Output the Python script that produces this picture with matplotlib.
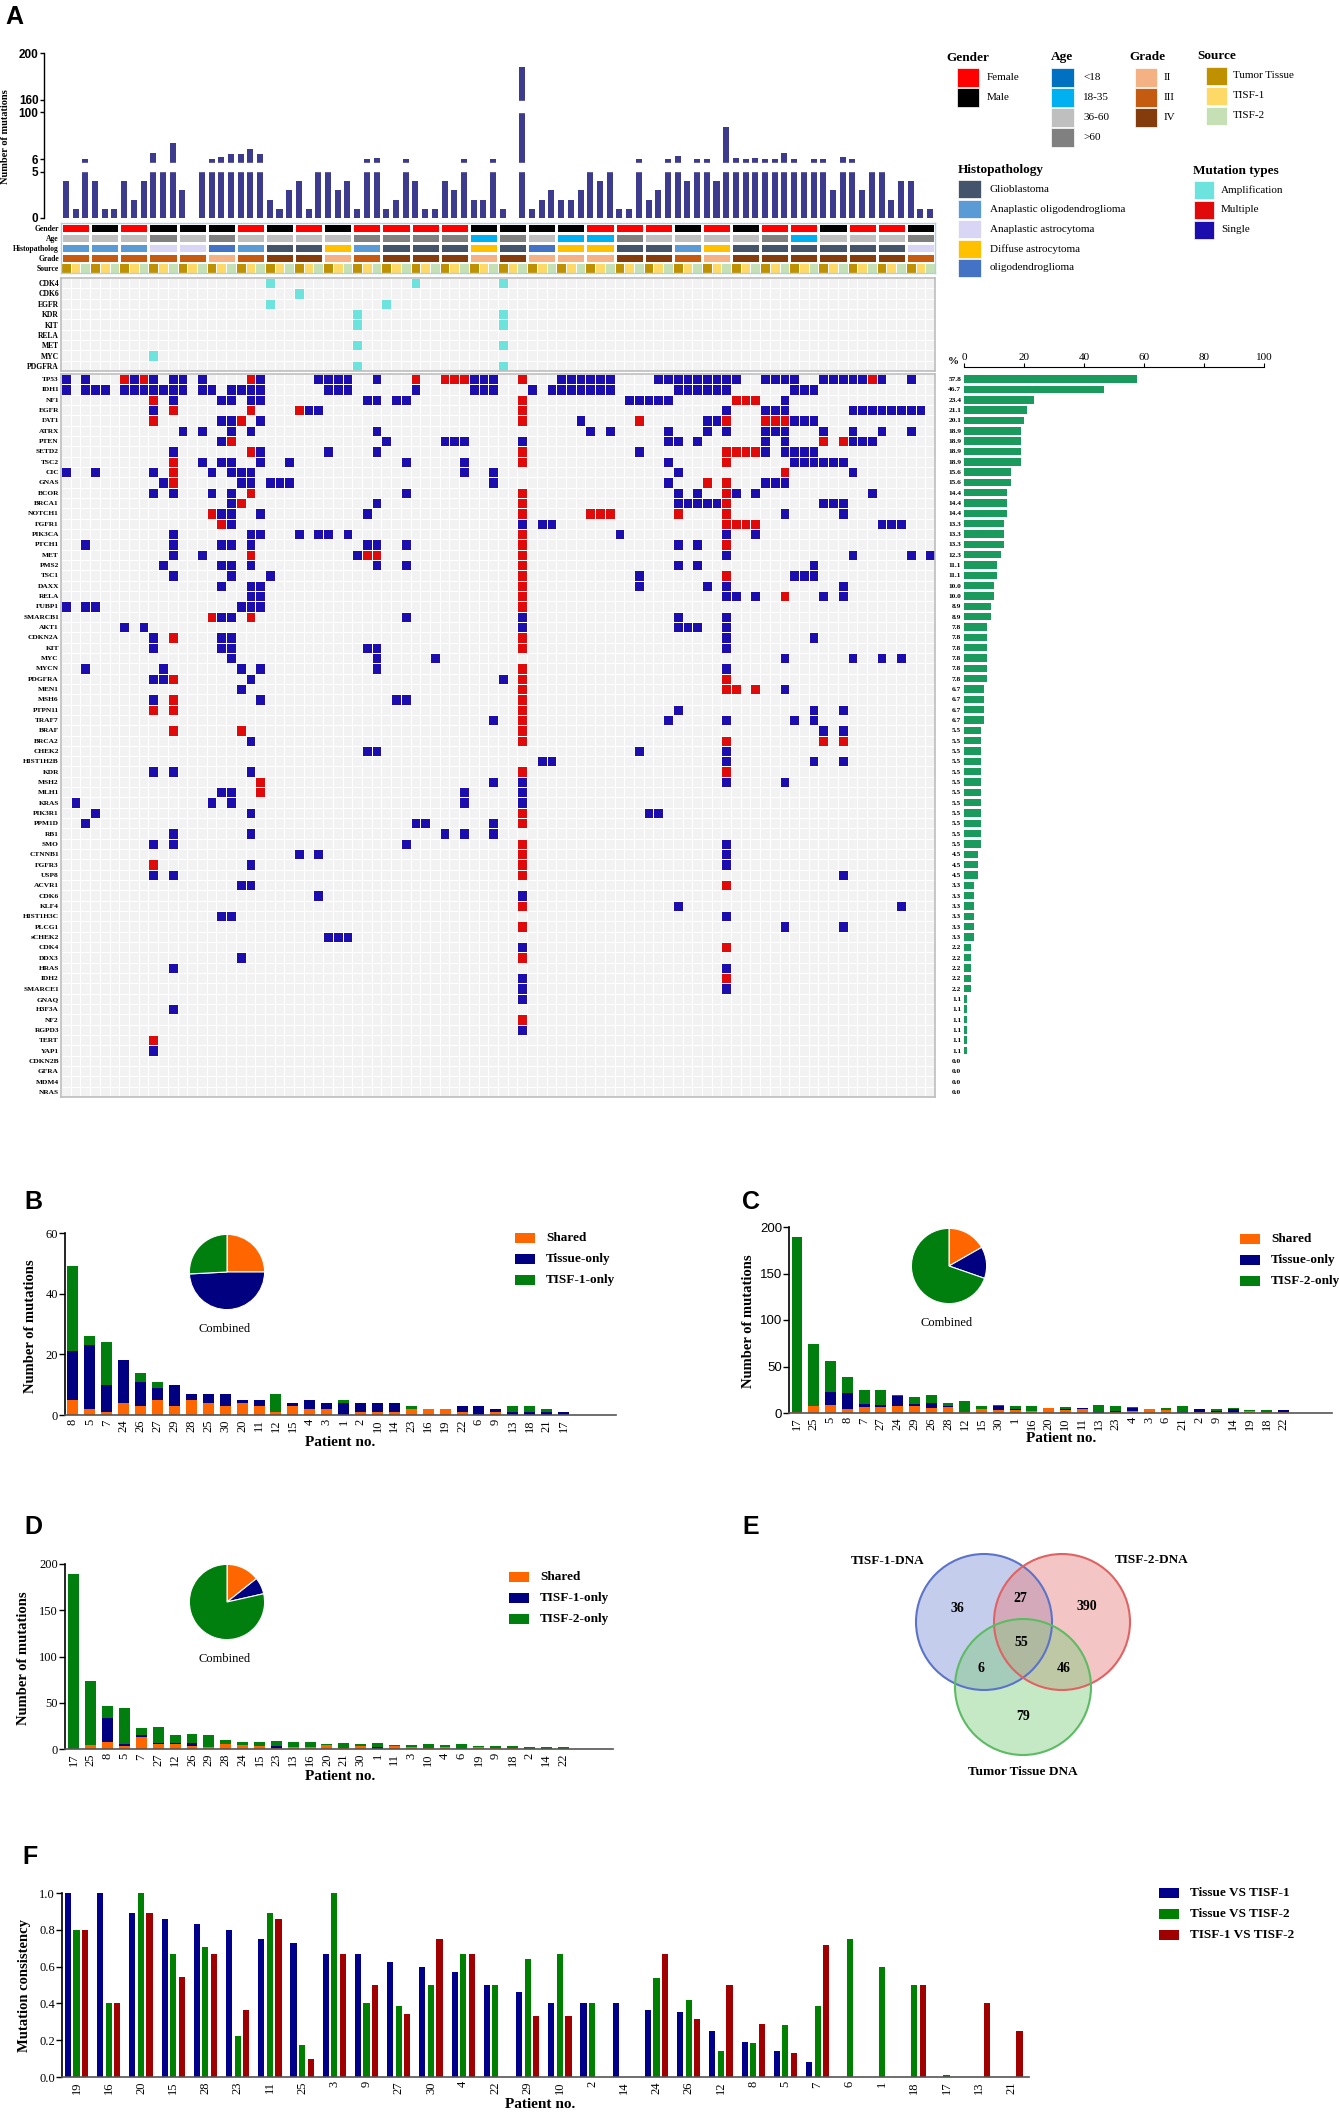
import numpy as np
import matplotlib
matplotlib.use("Agg")
import matplotlib.pyplot as plt
from matplotlib.colors import ListedColormap
from matplotlib.patches import Rectangle, Circle

plt.rcParams['font.family'] = ['Liberation Serif', 'DejaVu Serif']

# ---------------- data: panel A ----------------
n_pat = 30
gender = ['Female', 'Male', 'Female', 'Male', 'Male', 'Male', 'Female', 'Male', 'Female', 'Male',
          'Female', 'Female', 'Female', 'Female', 'Male', 'Male', 'Male', 'Male', 'Female', 'Female',
          'Female', 'Male', 'Female', 'Male', 'Female', 'Female', 'Male', 'Female', 'Female', 'Male']
age = ['36-60', '36-60', '36-60', '>60', '36-60', '>60', '36-60', '36-60', '36-60', '36-60',
       '>60', '>60', '>60', '>60', '18-35', '>60', '36-60', '18-35', '18-35', '>60',
       '36-60', '36-60', '36-60', '36-60', '>60', '18-35', '36-60', '36-60', '36-60', '>60']
histo = ['AO', 'AO', 'AO', 'AA', 'AA', 'OL', 'AO', 'GBM', 'GBM', 'DA',
         'AO', 'GBM', 'GBM', 'GBM', 'DA', 'GBM', 'OL', 'DA', 'DA', 'GBM',
         'GBM', 'AO', 'DA', 'GBM', 'GBM', 'GBM', 'GBM', 'GBM', 'GBM', 'AA']
grade = ['III', 'III', 'III', 'III', 'III', 'II', 'III', 'IV', 'IV', 'II',
         'III', 'IV', 'IV', 'IV', 'II', 'IV', 'II', 'II', 'II', 'IV',
         'IV', 'III', 'II', 'IV', 'IV', 'IV', 'IV', 'IV', 'IV', 'III']
sources = ['Tumor Tissue', 'TISF-1', 'TISF-2']

# mutations per sample (90 samples = 30 patients x 3 sources)
sample_total = [4, 1, 6, 4, 1, 1, 4, 2, 4, 19, 5, 38, 3, 0, 5, 6, 10, 16, 16, 27,
                16, 2, 1, 3, 4, 1, 5, 5, 3, 4, 1, 6, 8, 1, 2, 6, 4, 1, 1, 4,
                3, 6, 2, 2, 6, 1, 0, 188, 1, 2, 3, 2, 2, 3, 5, 4, 5, 1, 1, 6,
                2, 3, 6, 13, 4, 6, 6, 4, 70, 8, 6, 9, 7, 6, 18, 6, 5, 6, 6, 3,
                10, 6, 3, 5, 5, 2, 4, 4, 1, 1]

cnv_genes = ['CDK4', 'CDK6', 'EGFR', 'KDR', 'KIT', 'RELA', 'MET', 'MYC', 'PDGFRA']
cnv_cols = [[21, 36, 45], [24], [21, 33], [30, 45], [30, 45], [], [30, 45], [9], [30, 45]]

genes = ['TP53', 'IDH1', 'NF1', 'EGFR', 'FAT1', 'ATRX', 'PTEN', 'SETD2', 'TSC2', 'CIC',
         'GNAS', 'BCOR', 'BRCA1', 'NOTCH1', 'FGFR1', 'PIK3CA', 'PTCH1', 'MET', 'PMS2', 'TSC1',
         'DAXX', 'RELA', 'FUBP1', 'SMARCB1', 'AKT1', 'CDKN2A', 'KIT', 'MYC', 'MYCN', 'PDGFRA',
         'MEN1', 'MSH6', 'PTPN11', 'TRAF7', 'BRAF', 'BRCA2', 'CHEK2', 'HIST1H2B', 'KDR', 'MSH2',
         'MLH1', 'KRAS', 'PIK3R1', 'PPM1D', 'RB1', 'SMO', 'CTNNB1', 'FGFR3', 'USP8', 'ACVR1',
         'CDK6', 'KLF4', 'HIST1H3C', 'PLCG1', 'sCHEK2', 'CDK4', 'DDX3', 'HRAS', 'IDH2', 'SMARCE1',
         'GNAQ', 'H3F3A', 'NF2', 'RGPD3', 'TERT', 'YAP1', 'CDKN2B', 'GFRA', 'MDM4', 'NRAS']
pct = [57.8, 46.7, 23.4, 21.1, 20.1, 18.9, 18.9, 18.9, 18.9, 15.6,
       15.6, 14.4, 14.4, 14.4, 13.3, 13.3, 13.3, 12.3, 11.1, 11.1,
       10.0, 10.0, 8.9, 8.9, 7.8, 7.8, 7.8, 7.8, 7.8, 7.8,
       6.7, 6.7, 6.7, 6.7, 5.5, 5.5, 5.5, 5.5, 5.5, 5.5,
       5.5, 5.5, 5.5, 5.5, 5.5, 5.5, 4.5, 4.5, 4.5, 3.3,
       3.3, 3.3, 3.3, 3.3, 3.3, 2.2, 2.2, 2.2, 2.2, 2.2,
       1.1, 1.1, 1.1, 1.1, 1.1, 1.1, 0.0, 0.0, 0.0, 0.0]
# sample column of each mutated cell, "m" = multiple mutations
mut_cells = [
    "0 2 6m 7 8m 9 11 12 14 19m 20 26 27 28 29 32 36m 39m 40m 41m 42 43 44 47m 51 52 53 54 55 56 61 62 63 64 65 66 67 68 69 72 73 74 75 78 79 80 81 82 83m 84 87",
    "0 2 3 4 6 7 8 9 10 11 12 14 15 17 18 19 20 27 28 29 36 42 43 44 48 50 51 52 53 54 55 56 63 64 65 66 67 68 75 76 77",
    "9m 11 16 17 19 20 31 32 34 35 47m 58 59 60 61 62 69m 70m 71m 74",
    "9 11m 19m 24m 25 26 47m 68 72 73 74 81 82 83 84 85 86 87 88",
    "9m 16 17 18m 20 47m 53 59m 66 67 68m 72m 73m 74m 75 76 77",
    "12 14 17 19 32 54 56 62 66 68 72 73 74 78 81 84 87",
    "16 17m 33 39 40 41 47 62 63 65 72 74 78m 80m 81 82 83",
    "11 19m 20 27 32 47m 59 68m 69m 70m 71m 72 74 75 76 77",
    "11m 14 16 17 20 23 35 41 47m 62 68m 75 76 77 78 79 80",
    "0 3 9 11m 15 17 18 19 41 44 63 74m 81",
    "10 11m 18 19 21 22 23 44 62 66m 68m 72 73 74",
    "9 11 15 17 19m 35 47m 63 65 68m 69 71 83",
    "17 18m 32 47m 63 64 65 66 67 68m 78 79 80",
    "15m 16 17 20 31 47m 54m 55m 56m 63m 68m 74 80",
    "16m 17 47 49 50 68m 69m 70m 71m 84 85 86",
    "11 19 20 24 26 27 29 47m 57 68 71",
    "2 11 16 17 19 31 32 35 47m 63 65 68m",
    "11 14 19m 30 31m 32m 47m 68 81 87 89",
    "10 16 17 19 32 35 47m 63 65 77",
    "11 17 21 47m 59 68m 75 76 77",
    "16 19 20 47m 59 66 68 80",
    "19 20 47m 68 69 71 74m 78 80",
    "0 2 3 18 19 20 47m",
    "15m 16 17 19m 35 47 63 68",
    "6 8 47 63 64 65 68",
    "9 11m 16 17 47m 68 77",
    "9 16 17 31 32 47m 68",
    "17 32 38 74 81 84 86",
    "2 10 18 20 32 47m 68",
    "9 10 11m 19 45 47m 68m",
    "18 47m 68m 69m 71m 74",
    "9 11m 20 34 35 47m",
    "9m 11m 47m 63 77 80",
    "44 47m 62 68 75 77",
    "11m 18m 47m 78 80",
    "19 47m 68m 78m 80m",
    "31 32 59 68",
    "49 50 68 77 80",
    "9 11 19 47m 68m",
    "20m 44 47 68 74",
    "16 17 20m 41 47",
    "1 15 17 41 47",
    "3 19 47m 60 61",
    "2 36 37 44 47m",
    "11 19 39 41 44",
    "9 11 35 47m 68",
    "24 26 47m 68",
    "9m 19 47m 68",
    "9 11 47m 80",
    "18 19 68m",
    "26 47",
    "47m 63 86",
    "16 17 68",
    "47m 74 80",
    "27 28 29",
    "47 68m",
    "18 47m",
    "11 68",
    "47 68m",
    "47 68",
    "47",
    "11",
    "47m",
    "47",
    "9m",
    "9",
    "", "", "", "",
]

# ---------------- data: panels B-D ----------------
b_patients = ['8', '5', '7', '24', '26', '27', '29', '28', '25', '30', '20', '11', '12', '15', '4',
              '3', '1', '2', '10', '14', '23', '16', '19', '22', '6', '9', '13', '18', '21', '17']
b_shared = [5, 2, 1, 4, 3, 5, 3, 5, 4, 3, 4, 3, 1, 3, 2, 2, 0, 1, 1, 1, 2, 2, 2, 1, 0, 1, 0, 0, 0, 0]
b_tissue = [16, 21, 9, 14, 8, 4, 7, 2, 3, 4, 1, 2, 0, 1, 3, 2, 4, 3, 3, 3, 0, 0, 0, 2, 3, 1, 1, 1, 1, 1]
b_tisf1 = [28, 3, 14, 0, 3, 2, 0, 0, 0, 0, 0, 0, 6, 0, 0, 0, 1, 0, 0, 0, 1, 0, 0, 0, 0, 0, 2, 2, 1, 0]

c_patients = ['17', '25', '5', '8', '7', '27', '24', '29', '26', '28', '12', '15', '30', '1', '16',
              '20', '10', '11', '13', '23', '4', '3', '6', '21', '2', '9', '14', '19', '18', '22']
c_shared = [1, 7, 9, 4, 6, 6, 7, 8, 5, 6, 1, 4, 3, 3, 2, 5, 3, 4, 0, 1, 2, 4, 3, 0, 1, 1, 0, 2, 1, 1]
c_tissue = [0, 0, 14, 17, 4, 3, 11, 2, 6, 1, 0, 0, 4, 1, 0, 0, 1, 1, 1, 1, 3, 0, 0, 1, 3, 1, 4, 0, 0, 2]
c_tisf2 = [188, 67, 33, 18, 15, 16, 1, 7, 8, 4, 12, 4, 2, 3, 6, 0, 2, 0, 8, 6, 1, 0, 2, 7, 0, 2, 1, 1, 2, 0]

d_patients = ['17', '25', '8', '5', '7', '27', '12', '26', '29', '28', '24', '15', '23', '13', '16',
              '20', '21', '30', '1', '11', '3', '10', '4', '6', '19', '9', '18', '2', '14', '22']
d_shared = [0, 4, 8, 3, 13, 5, 5, 3, 2, 5, 4, 3, 1, 2, 2, 4, 1, 3, 0, 3, 2, 1, 2, 0, 2, 1, 1, 0, 0, 0]
d_tisf1 = [0, 0, 25, 2, 2, 2, 2, 3, 0, 0, 0, 0, 2, 0, 0, 0, 0, 0, 2, 0, 0, 0, 0, 0, 0, 0, 0, 0, 0, 0]
d_tisf2 = [189, 70, 14, 39, 8, 17, 8, 10, 13, 5, 4, 5, 6, 6, 6, 1, 6, 2, 5, 1, 2, 4, 2, 5, 1, 2, 2, 2, 2, 2]

# ---------------- data: panel E ----------------
venn_labels = ['TISF-1-DNA', 'TISF-2-DNA', 'Tumor Tissue DNA']
venn_counts = {'1': 36, '2': 390, 't': 79, '12': 27, '1t': 6, '2t': 46, '12t': 55}

# ---------------- data: panel F ----------------
f_patients = ['19', '16', '20', '15', '28', '23', '11', '25', '3', '9', '27', '30', '4', '22', '29',
              '10', '2', '14', '24', '26', '12', '8', '5', '7', '6', '1', '18', '17', '13', '21']
f_t1 = [1.0, 1.0, 0.889, 0.857, 0.833, 0.8, 0.75, 0.727, 0.667, 0.667, 0.625, 0.6, 0.571, 0.5, 0.462,
        0.4, 0.4, 0.4, 0.364, 0.353, 0.25, 0.188, 0.143, 0.08, 0, 0, 0, 0, 0, 0]
f_t2 = [0.8, 0.4, 1.0, 0.667, 0.706, 0.222, 0.889, 0.174, 1.0, 0.4, 0.385, 0.5, 0.667, 0.5, 0.64,
        0.667, 0.4, 0, 0.538, 0.417, 0.143, 0.185, 0.28, 0.385, 0.75, 0.6, 0.5, 0.01, 0, 0]
f_12 = [0.8, 0.4, 0.889, 0.545, 0.667, 0.364, 0.857, 0.1, 0.667, 0.5, 0.345, 0.75, 0.667, 0, 0.333,
        0.333, 0, 0, 0.667, 0.316, 0.5, 0.29, 0.128, 0.72, 0, 0, 0.5, 0, 0.4, 0.25]

# ---------------- colours ----------------
ann_colors = {
    'Female': '#FF0000', 'Male': '#000000',
    '<18': '#0070C0', '18-35': '#00B0F0', '36-60': '#BFBFBF', '>60': '#808080',
    'GBM': '#44546A', 'AO': '#5B9BD5', 'AA': '#D9D6F5', 'DA': '#FFC000', 'OL': '#4472C4',
    'II': '#F4B183', 'III': '#C55A11', 'IV': '#843C0C',
    'Tumor Tissue': '#BF9000', 'TISF-1': '#FFD966', 'TISF-2': '#C5E0B4',
}
histo_names = {'GBM': 'Glioblastoma', 'AO': 'Anaplastic oligodendroglioma',
               'AA': 'Anaplastic astrocytoma', 'DA': 'Diffuse astrocytoma', 'OL': 'oligodendroglioma'}
C_EMPTY, C_SINGLE, C_MULTI, C_AMP = '#F2F2F2', '#1C0DAE', '#E00A0A', '#6DE3DE'
ORANGE, NAVY, GREEN = '#FF6600', '#000080', '#007F0E'

W, H = 1339, 2116
fig = plt.figure(figsize=(W / 100, H / 100), dpi=100)


def box(x0, y0, x1, y1):
    # axes from pixel box (top-left origin)
    return fig.add_axes([x0 / W, 1 - y1 / H, (x1 - x0) / W, (y1 - y0) / H])


# overlay in pixel units, drawn on top of everything
ov = fig.add_axes([0, 0, 1, 1])
ov.set_xlim(0, W)
ov.set_ylim(H, 0)
ov.axis('off')
ov.set_zorder(10)
ov.patch.set_visible(False)

SANS = 'Liberation Sans'
for lab, (x, y) in {'A': (14, 17), 'B': (33, 1202), 'C': (751, 1202), 'D': (33, 1527),
                    'E': (751, 1527), 'F': (30, 1857)}.items():
    ov.text(x, y, lab, fontsize=18, fontweight='bold', family=SANS, ha='center', va='center')

# ---------------- A: mutation burden bars with broken axis ----------------
brk_vals = [-1000, 0, 5, 6, 100, 160, 200, 10000]
brk_pos = [-27600, 0, 138, 177, 317, 355, 495, 34795]


def fwd(v):
    return np.interp(v, brk_vals, brk_pos)


def inv(p):
    return np.interp(p, brk_pos, brk_vals)


n_samp = 3 * n_pat
ax = box(44, 53, 935, 218)
ax.set_yscale('function', functions=(fwd, inv))
ax.bar(np.arange(n_samp), sample_total, width=0.62, color='#3D3B8E', zorder=1)
ax.axhspan(5.05, 5.7, color='white', zorder=2)
ax.axhspan(100.6, 152, color='white', zorder=2)
ax.set_ylim(0, 200)
ax.set_xlim(-2.25, n_samp - 0.5)
ax.set_yticks([0, 5, 6, 100, 160, 200])
ax.set_yticklabels(['0', '5', '6', '100', '160', '200'])
ax.tick_params(axis='y', length=3, width=1, pad=1, labelsize=8.5)
for t in ax.get_yticklabels():
    t.set_fontweight('bold')
    t.set_family(SANS)
ax.set_xticks([])
for s in ['top', 'right', 'bottom']:
    ax.spines[s].set_visible(False)
ax.spines['left'].set_linewidth(1)
ov.text(6, 137, 'Number of mutations', rotation=90, fontsize=7.5, fontweight='bold', ha='center', va='center')

# ---------------- A: clinical annotation rows ----------------
ann_keys = list(ann_colors.keys())
ann_cmap = ListedColormap([ann_colors[k] for k in ann_keys])
axa = box(61, 223, 935, 273)
pat_rows = np.array([[ann_keys.index(v) for v in row] for row in (gender, age, histo, grade)])
axa.pcolormesh(np.arange(0, n_samp + 1, 3), np.arange(5), pat_rows, cmap=ann_cmap,
               vmin=-0.5, vmax=len(ann_keys) - 0.5, edgecolors='white', linewidth=1.0)
src_row = np.array([[ann_keys.index(sources[i % 3]) for i in range(n_samp)]])
axa.pcolormesh(np.arange(n_samp + 1), [4, 5], src_row, cmap=ann_cmap,
               vmin=-0.5, vmax=len(ann_keys) - 0.5, edgecolors='white', linewidth=0.6)
axa.set_xlim(0, n_samp)
axa.set_ylim(5, 0)
axa.set_xticks([])
axa.set_yticks(np.arange(5) + 0.5)
axa.set_yticklabels(['Gender', 'Age', 'Histopatholog', 'Grade', 'Source'])
axa.tick_params(axis='y', length=0, pad=1.5, labelsize=5.5)
for t in axa.get_yticklabels():
    t.set_fontweight('bold')
for s in axa.spines.values():
    s.set_color('#A9D3E6')
    s.set_linewidth(1)

# ---------------- A: copy-number rows ----------------
axc = box(61, 278, 935, 371)
cnv = np.zeros((len(cnv_genes), n_samp))
for i, cols in enumerate(cnv_cols):
    cnv[i, cols] = 1
axc.pcolormesh(np.arange(n_samp + 1), np.arange(len(cnv_genes) + 1), cnv,
               cmap=ListedColormap([C_EMPTY, C_AMP]), vmin=0, vmax=1, edgecolors='white', linewidth=0.6)
axc.set_xlim(0, n_samp)
axc.set_ylim(len(cnv_genes), 0)
axc.set_xticks([])
axc.set_yticks(np.arange(len(cnv_genes)) + 0.5)
axc.set_yticklabels(cnv_genes)
axc.tick_params(axis='y', length=0, pad=1.5, labelsize=5.5)
for t in axc.get_yticklabels():
    t.set_fontweight('bold')
for s in axc.spines.values():
    s.set_color('#BDBDBD')
    s.set_linewidth(1.2)

# ---------------- A: mutation matrix ----------------
mut = np.zeros((len(genes), n_samp))
for i, s in enumerate(mut_cells):
    for tok in s.split():
        if tok.endswith('m'):
            mut[i, int(tok[:-1])] = 2
        else:
            mut[i, int(tok)] = 1
axm = box(61, 374, 935, 1097)
axm.pcolormesh(np.arange(n_samp + 1), np.arange(len(genes) + 1), mut,
               cmap=ListedColormap([C_EMPTY, C_SINGLE, C_MULTI]), vmin=0, vmax=2,
               edgecolors='white', linewidth=0.6)
axm.set_xlim(0, n_samp)
axm.set_ylim(len(genes), 0)
axm.set_xticks([])
axm.set_yticks(np.arange(len(genes)) + 0.5)
axm.set_yticklabels(genes)
axm.tick_params(axis='y', length=0, pad=1.5, labelsize=5.3)
for t in axm.get_yticklabels():
    t.set_fontweight('bold')
for s in axm.spines.values():
    s.set_color('#BDBDBD')
    s.set_linewidth(1.2)

# ---------------- A: frequency bars ----------------
axp = box(964, 374, 1264, 1097)
axp.barh(np.arange(len(genes)) + 0.5, pct, height=0.72, color='#1A9A5C')
axp.set_ylim(len(genes), 0)
axp.set_xlim(0, 100)
axp.xaxis.tick_top()
axp.set_xticks([0, 20, 40, 60, 80, 100])
axp.tick_params(axis='x', length=3, pad=1, labelsize=8)
for t in axp.get_xticklabels():
    t.set_fontweight('bold')
axp.set_yticks(np.arange(len(genes)) + 0.5)
axp.set_yticklabels([f'{p:.1f}' for p in pct])
axp.tick_params(axis='y', length=0, pad=2, labelsize=5.3)
for t in axp.get_yticklabels():
    t.set_fontweight('bold')
for s in ['left', 'right', 'bottom']:
    axp.spines[s].set_visible(False)
axp.spines['top'].set_position(('outward', 5))
ov.text(953, 362, '%', fontsize=8, fontweight='bold', ha='center', va='center')


# ---------------- A: legends ----------------
def legend_block(title, tx, ty, bx, bw, bh, centers, items, colors, txt_x, tsize=9.5, isize=8):
    ov.text(tx, ty, title, fontsize=tsize, fontweight='bold', ha='left', va='center')
    for cy, name, col in zip(centers, items, colors):
        ov.add_patch(Rectangle((bx, cy - bh / 2), bw, bh, facecolor=col, edgecolor='white', lw=0.5))
        ov.text(txt_x, cy, name, fontsize=isize, ha='left', va='center')


legend_block('Gender', 946, 58, 957, 22, 19, [77, 97], ['Female', 'Male'],
             [ann_colors['Female'], ann_colors['Male']], 987)
age_groups = ['<18', '18-35', '36-60', '>60']
legend_block('Age', 1051, 57, 1051, 23, 19, [77, 97, 117, 137], age_groups,
             [ann_colors[a] for a in age_groups], 1083)
legend_block('Grade', 1129, 57, 1135, 22, 19, [77, 97, 117], ['II', 'III', 'IV'],
             [ann_colors[g] for g in ['II', 'III', 'IV']], 1164)
legend_block('Source', 1197, 56, 1206, 21, 18, [76, 96, 116], sources,
             [ann_colors[s] for s in sources], 1233)
h_order = ['GBM', 'AO', 'AA', 'DA', 'OL']
legend_block('Histopathology', 958, 170, 958, 23, 18, [189, 209, 229, 249, 268],
             [histo_names[h] for h in h_order], [ann_colors[h] for h in h_order], 990)
legend_block('Mutation types', 1193, 171, 1194, 20, 18, [190, 210, 230],
             ['Amplification', 'Multiple', 'Single'], [C_AMP, C_MULTI, C_SINGLE], 1221)


# ---------------- B, C, D: stacked bars with pies ----------------
def stacked_panel(rect, xlim, pts, a, b, c, ymax, ystep, names, pie_c, leg_x, leg_y, ylab_xy,
                  xlab_xy, sans_ticks=False):
    a, b, c = np.array(a), np.array(b), np.array(c)
    ax = box(*rect)
    ax.patch.set_visible(False)
    x = np.arange(len(pts))
    ax.bar(x, a, 0.65, color=ORANGE)
    ax.bar(x, b, 0.65, bottom=a, color=NAVY)
    ax.bar(x, c, 0.65, bottom=a + b, color=GREEN)
    ax.set_xlim(*xlim)
    ax.set_ylim(0, ymax)
    ax.set_yticks(np.arange(0, ymax + 1, ystep))
    ax.set_xticks(x)
    ax.set_xticklabels(pts, rotation=90, fontsize=9)
    ax.tick_params(axis='x', length=0, pad=3)
    ax.tick_params(axis='y', length=4, width=1, pad=1, labelsize=9.5 if sans_ticks else 9)
    if sans_ticks:
        for t in ax.get_yticklabels():
            t.set_family(SANS)
    for s in ['top', 'right']:
        ax.spines[s].set_visible(False)
    ax.spines['left'].set_linewidth(1.2)
    ax.spines['bottom'].set_linewidth(1.2)
    ax.spines['bottom'].set_color('#555555')
    pax = box(pie_c[0] - 47, pie_c[1] - 47, pie_c[0] + 47, pie_c[1] + 47)
    pax.pie([a.sum(), b.sum(), c.sum()], colors=[ORANGE, NAVY, GREEN], startangle=90,
            counterclock=False, wedgeprops=dict(edgecolor='white', linewidth=0.8))
    ov.text(pie_c[0] - 2, pie_c[1] + 57, 'Combined', fontsize=9, ha='center', va='center')
    for k, (name, col) in enumerate(zip(names, [ORANGE, NAVY, GREEN])):
        y = leg_y + 21 * k
        ov.add_patch(Rectangle((leg_x, y - 5), 20, 10, facecolor=col, edgecolor='none'))
        ov.text(leg_x + 31, y, name, fontsize=9.5, fontweight='bold', ha='left', va='center')
    ov.text(*ylab_xy, 'Number of mutations', rotation=90, fontsize=10.5, fontweight='bold',
            ha='center', va='center')
    ov.text(*xlab_xy, 'Patient no.', fontsize=11, fontweight='bold', ha='center', va='center')


stacked_panel((65, 1233, 616, 1415), (-0.47, 32.1), b_patients, b_shared, b_tissue, b_tisf1, 60, 20,
              ['Shared', 'Tissue-only', 'TISF-1-only'], (227, 1272), 515, 1238, (31, 1326), (340, 1443))
stacked_panel((789, 1227, 1332, 1413), (-0.48, 31.9), c_patients, c_shared, c_tissue, c_tisf2, 200, 50,
              ['Shared', 'Tissue-only', 'TISF-2-only'], (949, 1266), 1240, 1239, (748, 1321), (1061, 1439),
              sans_ticks=True)
stacked_panel((65, 1564, 613, 1749), (-0.53, 31.96), d_patients, d_shared, d_tisf1, d_tisf2, 200, 50,
              ['Shared', 'TISF-1-only', 'TISF-2-only'], (227, 1602), 509, 1577, (24, 1658), (340, 1777))

# ---------------- E: Venn diagram ----------------
circles = [((984, 1622), '#8090D8', '#5B73C8'), ((1062, 1622), '#E88080', '#E06262'),
           ((1023, 1687), '#80CC80', '#5DBB63')]
for (cx, cy), fc, ec in circles:
    ov.add_patch(Circle((cx, cy), 68, facecolor=fc, alpha=0.45, edgecolor='none'))
for (cx, cy), fc, ec in circles:
    ov.add_patch(Circle((cx, cy), 68, facecolor='none', edgecolor=ec, lw=1.5))
for name, (x, y) in zip(venn_labels, [(888, 1561), (1152, 1560), (1023, 1772)]):
    ov.text(x, y, name, fontsize=9.5, fontweight='bold', ha='center', va='center')
venn_pos = {'1': (957, 1609), '12': (1020, 1598), '2': (1087, 1607), '12t': (1021, 1643),
            '1t': (981, 1669), '2t': (1064, 1668), 't': (1023, 1717)}
for key, (x, y) in venn_pos.items():
    ov.text(x, y, str(venn_counts[key]), fontsize=10, fontweight='bold', ha='center', va='center')

# ---------------- F: mutation consistency ----------------
axf = box(62, 1893, 1029, 2077)
xf = np.arange(len(f_patients))
off = 0.267
bw = 0.19
f_names = ['Tissue VS TISF-1', 'Tissue VS TISF-2', 'TISF-1 VS TISF-2']
f_cols = ['#00008B', '#008000', '#A00000']
for k, vals in enumerate([f_t1, f_t2, f_12]):
    axf.bar(xf + (k - 1) * off, vals, bw, color=f_cols[k])
axf.set_xlim(-0.45, 29.56)
axf.set_ylim(0, 1.0)
axf.set_yticks(np.arange(0, 1.01, 0.2))
axf.set_yticklabels([f'{v:.1f}' for v in np.arange(0, 1.01, 0.2)])
axf.set_xticks(xf)
axf.set_xticklabels(f_patients, rotation=90, fontsize=9)
axf.tick_params(axis='x', length=0, pad=3)
axf.tick_params(axis='y', length=4, width=1, pad=1, labelsize=9)
for s in ['top', 'right']:
    axf.spines[s].set_visible(False)
axf.spines['left'].set_linewidth(1.2)
axf.spines['bottom'].set_linewidth(1.2)
axf.spines['bottom'].set_color('#555555')
for k, (name, col) in enumerate(zip(f_names, f_cols)):
    y = 1893 + 21 * k
    ov.add_patch(Rectangle((1159, y - 5), 20, 10, facecolor=col, edgecolor='none'))
    ov.text(1190, y, name, fontsize=9.5, fontweight='bold', ha='left', va='center')
ov.text(25, 1985, 'Mutation consistency', rotation=90, fontsize=10.5, fontweight='bold',
        ha='center', va='center')
ov.text(540, 2104, 'Patient no.', fontsize=11, fontweight='bold', ha='center', va='center')

fig.savefig('out.png', dpi=100)
